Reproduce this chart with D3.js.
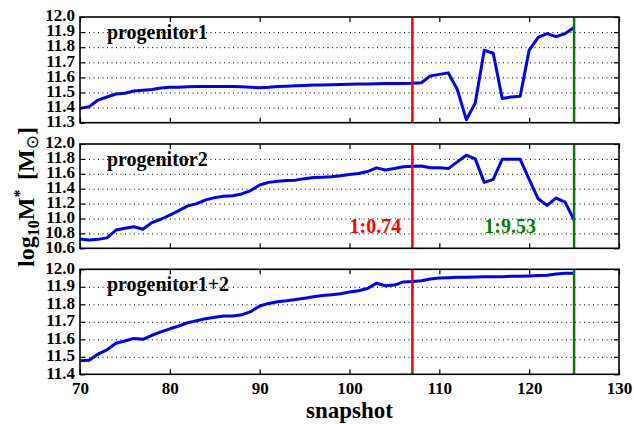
<!DOCTYPE html>
<html>
<head>
<meta charset="utf-8">
<script src="https://cdn.jsdelivr.net/npm/d3@7"></script>
<style>
  html, body { margin: 0; padding: 0; background: #fff; }
  svg { display: block; }
  text { font-family: "Liberation Serif", "Times New Roman", serif; font-weight: bold; }
</style>
</head>
<body>
<svg id="chart" width="634" height="424"></svg>
<script>
const snapshots = [70,71,72,73,74,75,76,77,78,79,80,81,82,83,84,85,86,87,88,89,90,91,92,93,94,95,96,97,98,99,100,101,102,103,104,105,106,107,108,109,110,111,112,113,114,115,116,117,118,119,120,121,122,123,124,125];

const progenitor1 = [11.395,11.405,11.45,11.47,11.49,11.495,11.51,11.515,11.52,11.53,
  11.535,11.535,11.538,11.54,11.54,11.54,11.54,11.54,11.538,11.535,
  11.532,11.535,11.54,11.542,11.545,11.547,11.55,11.55,11.552,11.553,
  11.555,11.556,11.557,11.558,11.56,11.56,11.56,11.561,11.565,11.61,
  11.62,11.63,11.52,11.32,11.43,11.78,11.76,11.46,11.47,11.475,
  11.78,11.865,11.89,11.87,11.89,11.93];

const progenitor2 = [10.725,10.71,10.72,10.74,10.845,10.87,10.89,10.855,10.945,10.99,
  11.045,11.105,11.17,11.20,11.25,11.28,11.30,11.305,11.33,11.375,
  11.45,11.485,11.50,11.51,11.515,11.535,11.55,11.555,11.56,11.575,
  11.59,11.605,11.63,11.68,11.65,11.67,11.695,11.70,11.705,11.68,
  11.68,11.67,11.76,11.85,11.80,11.485,11.525,11.795,11.795,11.795,
  11.525,11.265,11.175,11.275,11.22,10.98];

const progenitor12 = [11.478,11.48,11.515,11.54,11.577,11.59,11.605,11.60,11.623,11.642,
  11.66,11.676,11.695,11.706,11.718,11.726,11.733,11.733,11.74,11.758,
  11.79,11.805,11.815,11.82,11.828,11.835,11.843,11.85,11.855,11.86,
  11.87,11.877,11.89,11.92,11.906,11.91,11.928,11.93,11.935,11.945,
  11.95,11.952,11.954,11.955,11.956,11.958,11.958,11.958,11.96,11.96,
  11.962,11.964,11.966,11.973,11.977,11.977];

const panelNames = ["progenitor1", "progenitor2", "progenitor1+2"];
const panelDomains = [[11.3, 12.0], [10.6, 12.0], [11.4, 12.0]];
const panelTicks = [
  [11.3,11.4,11.5,11.6,11.7,11.8,11.9,12.0],
  [10.6,10.8,11.0,11.2,11.4,11.6,11.8,12.0],
  [11.4,11.5,11.6,11.7,11.8,11.9,12.0]
];
const xDomain = [70, 130];
const xTicks = [70,80,90,100,110,120,130];
const mergerSnapshots = [107, 125];
const mergerRatios = ["1:0.74", "1:9.53"];
const ratioLabelX = [100, 115];

const series = [progenitor1, progenitor2, progenitor12];

const svg = d3.select("#chart");
const left = 80, right = 619;
const panels = [{top: 17, bottom: 122.7}, {top: 144, bottom: 248.3}, {top: 269.3, bottom: 374.3}];
const mergerColors = ["#ff0000", "#008000"];

const x = d3.scaleLinear().domain(xDomain).range([left, right]);

panels.forEach((p, i) => {
  const y = d3.scaleLinear().domain(panelDomains[i]).range([p.bottom, p.top]);
  const g = svg.append("g");

  // dotted grid
  const grid = g.append("g")
    .attr("transform", `translate(${left},0)`)
    .call(d3.axisLeft(y).tickValues(panelTicks[i].slice(1, -1)).tickSize(-(right - left)).tickFormat(""));
  grid.select(".domain").remove();
  grid.selectAll("line").attr("stroke", "#000").attr("stroke-width", 1).attr("stroke-dasharray", "1,3.5");

  // series line
  const line = d3.line().x((d, k) => x(snapshots[k])).y(d => y(d));
  g.append("path")
    .datum(series[i])
    .attr("fill", "none")
    .attr("stroke", "#0000ff")
    .attr("stroke-width", 3)
    .attr("stroke-linejoin", "round")
    .attr("d", line);

  // merger lines
  mergerSnapshots.forEach((s, k) => {
    g.append("line")
      .attr("x1", x(s)).attr("x2", x(s))
      .attr("y1", p.top).attr("y2", p.bottom)
      .attr("stroke", mergerColors[k]).attr("stroke-width", 2.5);
  });

  // axes
  const yl = g.append("g").attr("transform", `translate(${left},0)`)
    .call(d3.axisLeft(y).tickValues(panelTicks[i]).tickSizeInner(-5).tickSizeOuter(0).tickPadding(5).tickFormat(d3.format(".1f")));
  yl.select(".domain").remove();
  yl.selectAll("line").attr("stroke", "#000").attr("stroke-width", 1.2);
  yl.selectAll("text").attr("font-size", 17).attr("fill", "#000").attr("dy", "0.22em");

  const yr = g.append("g").attr("transform", `translate(${right},0)`)
    .call(d3.axisRight(y).tickValues(panelTicks[i]).tickSizeInner(-5).tickSizeOuter(0).tickFormat(""));
  yr.select(".domain").remove();
  yr.selectAll("line").attr("stroke", "#000").attr("stroke-width", 1.2);

  const xt = g.append("g").attr("transform", `translate(0,${p.top})`)
    .call(d3.axisTop(x).tickValues(xTicks).tickSizeInner(-5).tickSizeOuter(0).tickFormat(""));
  xt.select(".domain").remove();
  xt.selectAll("line").attr("stroke", "#000").attr("stroke-width", 1.2);

  const xb = g.append("g").attr("transform", `translate(0,${p.bottom})`)
    .call(d3.axisBottom(x).tickValues(xTicks).tickSizeInner(-5).tickSizeOuter(0).tickPadding(8)
      .tickFormat(i === 2 ? d3.format("d") : ""));
  xb.select(".domain").remove();
  xb.selectAll("line").attr("stroke", "#000").attr("stroke-width", 1.2);
  xb.selectAll("text").attr("font-size", 17).attr("fill", "#000");

  // frame
  g.append("rect")
    .attr("x", left).attr("y", p.top)
    .attr("width", right - left).attr("height", p.bottom - p.top)
    .attr("fill", "none").attr("stroke", "#000").attr("stroke-width", 1.6);

  // panel label
  g.append("text")
    .attr("x", x(73.0)).attr("y", p.top + 22)
    .attr("font-size", 20)
    .attr("fill", "#000")
    .text(panelNames[i]);

  // ratio labels in panel 2
  if (i === 1) {
    mergerRatios.forEach((r, k) => {
      g.append("text")
        .attr("x", x(ratioLabelX[k])).attr("y", p.bottom - 15)
        .attr("font-size", 20)
        .attr("fill", mergerColors[k])
        .text(r);
    });
  }
});

// x label
svg.append("text")
  .attr("x", (left + right) / 2).attr("y", 418)
  .attr("text-anchor", "middle")
  .attr("font-size", 23)
  .attr("fill", "#000")
  .text("snapshot");

// y label
const yLab = svg.append("text")
  .attr("transform", "translate(34,197) rotate(-90)")
  .attr("text-anchor", "middle")
  .attr("font-size", 24)
  .attr("fill", "#000");
yLab.append("tspan").text("log");
yLab.append("tspan").attr("font-size", 16).attr("dy", 5).text("10");
yLab.append("tspan").attr("dy", -5).text("M");
yLab.append("tspan").attr("font-size", 16).attr("dy", -9).text("*");
yLab.append("tspan").attr("dy", 9).text("\u2009\u2009[M");
yLab.append("tspan").attr("font-size", 17).attr("dy", 4).attr("font-family", "DejaVu Sans").attr("font-weight", "normal").text("\u2299");
yLab.append("tspan").attr("dy", -4).text("]");
</script>
</body>
</html>
